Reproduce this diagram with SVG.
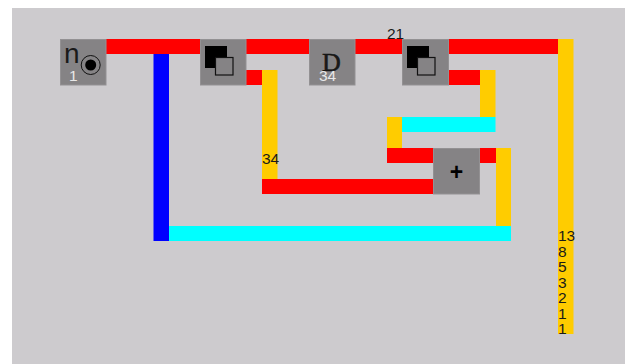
<svg xmlns="http://www.w3.org/2000/svg" width="625" height="364" viewBox="0 0 625 364">
<style>
.r{fill:#ff0000}.y{fill:#ffcc00}.b{fill:#0000ff}.c{fill:#00ffff}
.n{fill:#858385;stroke:#939193;stroke-width:1}
text{font-family:"Liberation Sans",Arial,sans-serif;font-size:15.500px;fill:#1a1a1a}
.w{fill:#e8e8e8}
</style>
<defs>
<g id="dup"><rect x="5" y="7" width="22" height="22" fill="#000"/><rect x="15.500" y="18.500" width="17.500" height="17.500" fill="#858385" stroke="#111" stroke-width="1.200"/></g>
</defs>
<rect width="625" height="364" fill="#fff"/>
<rect x="12" y="8" width="613" height="356" fill="#cdcbce"/>
<g id="connectors">
<rect class="r" x="106" y="39" width="94" height="15"/>
<rect class="b" x="153.500" y="54" width="15.500" height="187"/>
<rect class="c" x="169" y="226" width="342" height="15"/>
<rect class="y" x="496" y="148" width="15" height="78"/>
<rect class="r" x="480" y="148" width="16" height="15"/>
<rect class="r" x="246" y="39" width="63" height="15"/>
<rect class="r" x="355" y="39" width="47" height="15"/>
<rect class="r" x="449" y="39" width="109" height="15"/>
<rect class="y" x="558" y="39" width="15.500" height="295"/>
<rect class="r" x="246" y="70" width="16" height="15"/>
<rect class="y" x="262" y="70" width="15.500" height="109"/>
<rect class="r" x="262" y="179" width="171" height="15"/>
<rect class="r" x="449" y="70" width="31" height="15"/>
<rect class="y" x="480" y="70" width="15.500" height="47"/>
<rect class="c" x="402" y="117" width="93.500" height="15"/>
<rect class="y" x="387" y="117" width="15" height="31"/>
<rect class="r" x="387" y="148" width="46" height="15"/>
</g>
<g id="node-source"><rect class="n" x="60.500" y="39.500" width="45.500" height="45.500"/>
<text x="64" y="63" style="font-size:28px">n</text>
<circle cx="90.700" cy="65" r="9.500" fill="none" stroke="#111" stroke-width="1"/><circle cx="90.700" cy="65" r="5.500" fill="#000"/>
<text class="w" x="69" y="81">1</text></g>
<g id="node-dup1"><rect class="n" x="200.500" y="39.500" width="45.500" height="45.500"/><use href="#dup" x="200" y="39"/></g>
<g id="node-delay"><rect class="n" x="309.500" y="39.500" width="45.500" height="45.500"/>
<text x="322" y="71" style="font-family:'Liberation Serif',serif;font-size:26px;stroke:#111;stroke-width:.5">D</text>
<text class="w" x="319" y="81">34</text></g>
<g id="node-dup2"><rect class="n" x="402.500" y="39.500" width="46" height="45.500"/><use href="#dup" x="402" y="39"/></g>
<g id="node-add"><rect class="n" x="433.500" y="148.500" width="46" height="45.500"/>
<text x="456.500" y="180" text-anchor="middle" style="font-size:23px;font-weight:bold;fill:#000">+</text></g>
<g id="labels">
<text x="387" y="39">21</text>
<text x="262" y="164">34</text>
<text x="558" y="241">13</text>
<text x="558" y="257">8</text>
<text x="558" y="272">5</text>
<text x="558" y="288">3</text>
<text x="558" y="303">2</text>
<text x="558" y="319">1</text>
<text x="558" y="334">1</text>
</g>
</svg>
